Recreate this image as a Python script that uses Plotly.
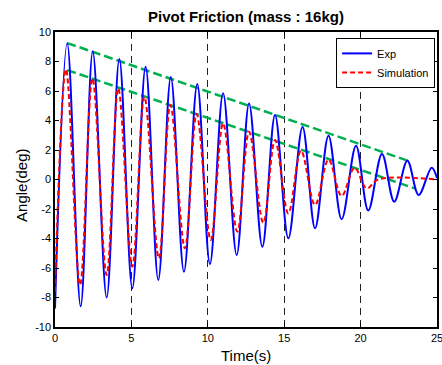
import plotly.graph_objects as go

# Experimental data: extrema (time, angle)
exp_t = [0, 0.80, 1.68, 2.47, 3.38, 4.21, 5.06, 5.93, 6.76, 7.58, 8.44, 9.31, 10.14, 11.0,
         11.89, 12.7, 13.57, 14.4, 15.27, 16.2, 17.02, 17.9, 18.76, 19.7, 20.5, 21.4, 22.2,
         23.06, 23.8, 24.65, 25.0]
exp_v = [-8.75, 9.23, -8.6, 8.68, -8.0, 8.17, -7.38, 7.65, -6.81, 6.95, -6.25, 6.47, -5.73, 5.84,
         -5.12, 5.16, -4.56, 4.37, -3.99, 3.56, -3.31, 2.97, -2.7, 2.29, -2.1, 1.73, -1.5,
         1.27, -1.05, 0.8, 0.1]

# Simulation data: extrema (time, angle)
sim_t = [0, 0.72, 1.64, 2.45, 3.38, 4.14, 5.06, 5.85, 6.8, 7.55, 8.5, 9.27, 10.19, 11.0,
         11.93, 12.7, 13.63, 14.4, 15.27, 16.1, 17.02, 17.9, 18.76, 19.6, 20.4, 21.15, 25.0]
sim_v = [-7.6, 7.47, -7.15, 6.86, -6.47, 6.18, -5.91, 5.61, -5.34, 5.05, -4.66, 4.44, -4.1, 3.81,
         -3.54, 3.24, -2.93, 2.68, -2.3, 1.96, -1.73, 1.36, -1.12, 0.79, -0.6, 0.0, 0.0]

# Decay envelope lines (green dashed)
env_upper_t = [0.8, 23.3]
env_upper_v = [9.25, 1.2]
env_lower_t = [0.8, 23.6]
env_lower_v = [7.42, -0.62]

x_ticks = [0, 5, 10, 15, 20, 25]
y_ticks = [-10, -8, -6, -4, -2, 0, 2, 4, 6, 8, 10]

FONT = "Arial, Liberation Sans, sans-serif"

fig = go.Figure()
fig.add_trace(go.Scatter(x=env_upper_t, y=env_upper_v, mode="lines", showlegend=False,
                         line=dict(color="#00B050", width=2.5, dash="9px,4px")))
fig.add_trace(go.Scatter(x=env_lower_t, y=env_lower_v, mode="lines", showlegend=False,
                         line=dict(color="#00B050", width=2.5, dash="9px,4px")))
fig.add_trace(go.Scatter(x=exp_t, y=exp_v, mode="lines", name="Exp",
                         line=dict(color="#0000FF", width=2, shape="spline", smoothing=1.0)))
fig.add_trace(go.Scatter(x=sim_t, y=sim_v, mode="lines", name="Simulation",
                         line=dict(color="#FF0000", width=2, dash="5px,3px", shape="spline", smoothing=1.0)))

fig.update_layout(
    width=442, height=365,
    margin=dict(l=55, r=5, t=32, b=38),
    paper_bgcolor="white", plot_bgcolor="white",
    font=dict(family=FONT, size=11, color="black"),
    title=dict(text="<b>Pivot Friction (mass : 16kg)</b>", x=0.5, xref="paper",
               y=1 - 17 / 365, yref="container", yanchor="middle", xanchor="center",
               font=dict(size=15, family=FONT, color="black")),
    showlegend=True,
    legend=dict(x=0.995, y=0.98, xanchor="right", yanchor="top",
                bgcolor="white", bordercolor="black", borderwidth=1,
                font=dict(size=11, family=FONT), tracegroupgap=0,
                itemwidth=30),
    annotations=[
        dict(text="Time(s)", x=0.5, y=(327 - 355) / 295, xref="paper", yref="paper",
             showarrow=False, xanchor="center", yanchor="middle",
             font=dict(size=15, family=FONT)),
        dict(text="Angle(deg)", x=(21.5 - 55) / 382, y=0.48, xref="paper", yref="paper",
             showarrow=False, xanchor="center", yanchor="middle", textangle=-90,
             font=dict(size=15, family=FONT)),
    ],
)
fig.update_xaxes(range=[0, 25], tickvals=x_ticks, ticktext=[str(v) for v in x_ticks],
                 ticks="inside", ticklen=4, tickcolor="black", showline=True, linecolor="black",
                 linewidth=1.5, mirror="ticks", showgrid=True, gridcolor="#222222", gridwidth=1,
                 griddash="7px,5px", zeroline=False, tickfont=dict(size=11),
                 ticklabeloverflow="allow", automargin=False)
fig.update_yaxes(range=[-10, 10], tickvals=y_ticks, ticktext=[str(v) for v in y_ticks],
                 ticks="inside", ticklen=4, tickcolor="black", showline=True, linecolor="black",
                 linewidth=1.5, mirror="ticks", showgrid=False, zeroline=False, tickfont=dict(size=11),
                 ticklabeloverflow="allow", automargin=False)

fig.write_html("out.html")
